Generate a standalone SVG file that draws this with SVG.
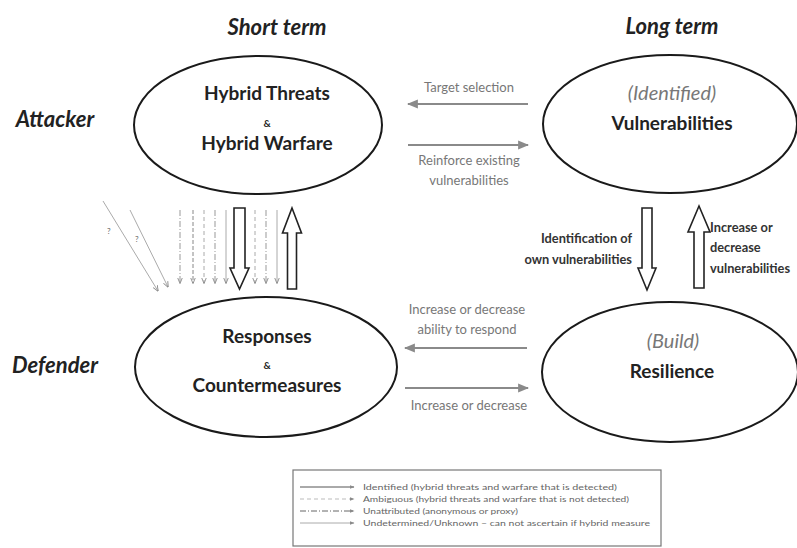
<svg xmlns="http://www.w3.org/2000/svg" width="797" height="548" viewBox="0 0 797 548">
<defs>
<marker id="ah" viewBox="0 0 10 10" refX="9" refY="5" markerWidth="5" markerHeight="5" orient="auto">
<path d="M0,1 L10,5 L0,9 Z" fill="#8a8a8a"/>
</marker>
<marker id="sh" viewBox="0 0 10 10" refX="9" refY="5" markerWidth="6" markerHeight="6" orient="auto">
<path d="M0,1 L10,5 L0,9" fill="none" stroke="#888" stroke-width="1.5"/>
</marker>
<style>
.node ellipse{fill:#fff;stroke:#1a1a1a;stroke-width:2}
.t{font-family:Lato,"Open Sans","Liberation Sans",sans-serif;text-anchor:middle;fill:#222}
.b{font-weight:bold;font-size:19px}
.amp{font-weight:bold;font-size:10px}
.it{font-style:italic;font-size:20px;fill:#777}
.hdr{font-family:Lato,"Open Sans","Liberation Sans",sans-serif;font-weight:bold;font-style:italic;font-size:22px;fill:#222;text-anchor:middle}
.lbl{font-family:Lato,"Open Sans","Liberation Sans",sans-serif;font-size:13px;fill:#777;text-anchor:middle}
.bl{font-family:Lato,"Open Sans","Liberation Sans",sans-serif;font-weight:bold;font-size:12.8px;fill:#333}
.harr{stroke:#8a8a8a;stroke-width:2.2;fill:none;marker-end:url(#ah)}
.blk{fill:#fff;stroke:#222;stroke-width:1.6}
.thin{stroke-width:1;fill:none;marker-end:url(#sh)}
.leg{font-family:Lato,"Open Sans","Liberation Sans",sans-serif;font-size:8px;fill:#666}
</style>
</defs>
<rect width="797" height="548" fill="#fff"/>

<text class="hdr" x="277" y="35">Short term</text>
<text class="hdr" x="672" y="34">Long term</text>
<text class="hdr" x="55" y="127">Attacker</text>
<text class="hdr" x="55" y="373">Defender</text>

<g id="hybrid" class="node">
<ellipse cx="258" cy="125" rx="124" ry="69"/>
<text class="t b" x="267" y="100">Hybrid Threats</text>
<text class="t amp" x="267" y="127">&amp;</text>
<text class="t b" x="267" y="150">Hybrid Warfare</text>
</g>
<g id="vulnerabilities" class="node">
<ellipse cx="670" cy="124" rx="127" ry="69"/>
<text class="t it" x="672" y="100">(Identified)</text>
<text class="t b" x="672" y="130">Vulnerabilities</text>
</g>
<g id="responses" class="node">
<ellipse cx="266" cy="367" rx="131" ry="70"/>
<text class="t b" x="267" y="343">Responses</text>
<text class="t amp" x="267" y="369">&amp;</text>
<text class="t b" x="267" y="392">Countermeasures</text>
</g>
<g id="resilience" class="node">
<ellipse cx="670" cy="372" rx="128" ry="70"/>
<text class="t it" x="673" y="348">(Build)</text>
<text class="t b" x="672" y="378">Resilience</text>
</g>

<g id="connectors">
<line class="harr" x1="528" y1="104" x2="408" y2="104"/>
<line class="harr" x1="408" y1="145" x2="528" y2="145"/>
<text class="lbl" x="469" y="92">Target selection</text>
<text class="lbl" x="469" y="165">Reinforce existing</text>
<text class="lbl" x="469" y="185">vulnerabilities</text>

<line class="harr" x1="527" y1="348" x2="405" y2="348"/>
<line class="harr" x1="405" y1="388" x2="528" y2="388"/>
<text class="lbl" x="467" y="314">Increase or decrease</text>
<text class="lbl" x="467" y="334">ability to respond</text>
<text class="lbl" x="469" y="410">Increase or decrease</text>

<path class="blk" d="M642,208 H652 V268 H656 L647,290 L638,268 H642 Z"/>
<path class="blk" d="M699,206 L710,232 H704 V288 H694 V232 H688 Z"/>
<text class="bl" x="632" y="243" text-anchor="end">Identification of</text>
<text class="bl" x="632" y="264" text-anchor="end">own vulnerabilities</text>
<text class="bl" x="710" y="232">Increase or</text>
<text class="bl" x="710" y="252">decrease</text>
<text class="bl" x="710" y="273">vulnerabilities</text>

<path class="blk" d="M234,208 H245 V268 H249 L239.5,289 L230,268 H234 Z"/>
<path class="blk" d="M292,208 L301.5,233 H296.5 V289 H287.5 V233 H282.5 Z"/>

<line class="thin" x1="180" y1="210" x2="180" y2="283" stroke="#999" stroke-dasharray="6,2,1,2"/>
<line class="thin" x1="193" y1="210" x2="193" y2="283" stroke="#888" stroke-dasharray="4,2"/>
<line class="thin" x1="204" y1="210" x2="204" y2="283" stroke="#aaa" stroke-dasharray="4,3"/>
<line class="thin" x1="215" y1="210" x2="215" y2="283" stroke="#999" stroke-dasharray="6,2,1,2"/>
<line class="thin" x1="226" y1="210" x2="226" y2="283" stroke="#aaa"/>
<line class="thin" x1="255" y1="210" x2="255" y2="283" stroke="#aaa" stroke-dasharray="4,3"/>
<line class="thin" x1="266" y1="210" x2="266" y2="283" stroke="#999" stroke-dasharray="6,2,1,2"/>
<line class="thin" x1="277" y1="210" x2="277" y2="283" stroke="#aaa"/>

<line class="thin" x1="103" y1="201" x2="158" y2="291" stroke="#aaa"/>
<line class="thin" x1="130" y1="210" x2="168" y2="287" stroke="#aaa"/>
<text class="leg" x="107" y="234" font-size="7">?</text>
<text class="leg" x="135" y="242" font-size="7">?</text>
</g>

<g id="legend">
<rect x="293" y="470" width="368" height="76" fill="#fff" stroke="#777" stroke-width="1.2"/>
<line x1="300" y1="487" x2="354" y2="487" stroke="#555" stroke-width="1" marker-end="url(#ah)"/>
<line x1="300" y1="499" x2="354" y2="499" stroke="#bbb" stroke-width="1" stroke-dasharray="4,3" marker-end="url(#ah)"/>
<line x1="300" y1="511" x2="354" y2="511" stroke="#666" stroke-width="1" stroke-dasharray="6,2,1,2" marker-end="url(#ah)"/>
<line x1="300" y1="523" x2="354" y2="523" stroke="#aaa" stroke-width="1" marker-end="url(#ah)"/>
<text class="leg" x="363" y="490" textLength="254" lengthAdjust="spacingAndGlyphs">Identified (hybrid threats and warfare that is detected)</text>
<text class="leg" x="363" y="502" textLength="266" lengthAdjust="spacingAndGlyphs">Ambiguous (hybrid threats and warfare that is not detected)</text>
<text class="leg" x="363" y="514" textLength="155" lengthAdjust="spacingAndGlyphs">Unattributed (anonymous or proxy)</text>
<text class="leg" x="363" y="526" textLength="287" lengthAdjust="spacingAndGlyphs">Undetermined/Unknown – can not ascertain if hybrid measure</text>
</g>
</svg>
